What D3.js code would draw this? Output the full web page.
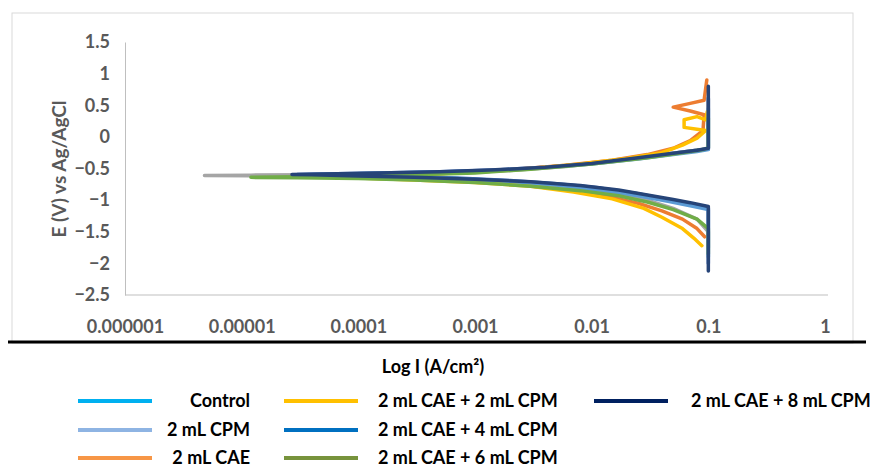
<!DOCTYPE html>
<html>
<head>
<meta charset="utf-8">
<script src="https://cdn.jsdelivr.net/npm/d3@7"></script>
<style>
  body { margin: 0; background: #fff; }
  svg { display: block; font-family: Lato, "Open Sans", sans-serif; }
</style>
</head>
<body>
<svg id="chart" width="871" height="468"></svg>
<script>
// tick values and labels
const xTicks = [1e-6, 1e-5, 1e-4, 1e-3, 1e-2, 1e-1, 1];
const xTickLabels = ["0.000001", "0.00001", "0.0001", "0.001", "0.01", "0.1", "1"];
const yTicks = [1.5, 1, 0.5, 0, -0.5, -1, -1.5, -2, -2.5];

const seriesNames = ["Control", "2 mL CPM", "2 mL CAE", "2 mL CAE + 2 mL CPM",
                     "2 mL CAE + 4 mL CPM", "2 mL CAE + 6 mL CPM", "2 mL CAE + 8 mL CPM"];

// current (A/cm2) and potential (V), cathodic end -> anodic end
const controlI = [0.1, 0.1, 0.07, 0.045, 0.025, 0.012, 0.005, 0.002, 7e-4, 2.5e-4, 9e-5, 4e-5, 3e-5, 5e-5, 1.5e-4, 5e-4, 0.0015, 0.004, 0.01, 0.025, 0.05, 0.08, 0.1, 0.1];
const controlE = [-2.0, -1.12, -1.06, -0.99, -0.9, -0.81, -0.74, -0.69, -0.65, -0.63, -0.61, -0.6, -0.595, -0.585, -0.57, -0.55, -0.525, -0.48, -0.42, -0.33, -0.26, -0.21, -0.19, 0.62];

const cpmI = [0.093, 0.08, 0.06, 0.04, 0.025, 0.012, 0.005, 0.002, 7e-4, 2e-4, 7e-5, 4e-5, 7e-5, 2e-4, 7e-4, 0.002, 0.006, 0.015, 0.03, 0.05, 0.07, 0.09, 0.092, 0.07, 0.05, 0.07, 0.092, 0.097];
const cpmE = [-1.58, -1.45, -1.3, -1.17, -1.05, -0.92, -0.82, -0.74, -0.69, -0.65, -0.63, -0.62, -0.61, -0.6, -0.57, -0.52, -0.45, -0.37, -0.28, -0.18, -0.06, 0.1, 0.35, 0.41, 0.47, 0.53, 0.58, 0.9];

const caeI = [0.1, 0.1, 0.08, 0.05, 0.03, 0.015, 0.006, 0.002, 6e-4, 1.5e-4, 4e-5, 1.2e-5, 4.8e-6, 1.2e-5, 4e-5, 1.5e-4, 6e-4, 0.002, 0.006, 0.015, 0.035, 0.065, 0.09, 0.1, 0.1];
const caeE = [-1.75, -1.5, -1.3, -1.13, -1.0, -0.88, -0.79, -0.72, -0.67, -0.64, -0.62, -0.615, -0.61, -0.605, -0.6, -0.59, -0.57, -0.53, -0.47, -0.39, -0.3, -0.23, -0.2, -0.19, 0.6];

const cae2I = [0.088, 0.075, 0.06, 0.04, 0.028, 0.015, 0.007, 0.003, 0.001, 3e-4, 1e-4, 5e-5, 1e-4, 3e-4, 0.001, 0.003, 0.008, 0.02, 0.04, 0.06, 0.08, 0.095, 0.08, 0.062, 0.062, 0.08, 0.095, 0.098];
const cae2E = [-1.72, -1.6, -1.45, -1.27, -1.13, -0.98, -0.87, -0.78, -0.72, -0.68, -0.65, -0.63, -0.615, -0.6, -0.56, -0.5, -0.43, -0.34, -0.25, -0.13, -0.02, 0.1, 0.12, 0.15, 0.27, 0.32, 0.27, 0.4];

const cae4I = [0.1, 0.1, 0.07, 0.045, 0.025, 0.012, 0.005, 0.002, 7e-4, 2.5e-4, 9e-5, 4.5e-5, 3.5e-5, 6e-5, 1.5e-4, 5e-4, 0.0015, 0.004, 0.01, 0.025, 0.05, 0.08, 0.1, 0.1];
const cae4E = [-1.9, -1.15, -1.09, -1.02, -0.93, -0.84, -0.76, -0.7, -0.66, -0.63, -0.615, -0.605, -0.6, -0.59, -0.575, -0.555, -0.53, -0.485, -0.43, -0.35, -0.28, -0.23, -0.2, 0.45];

const cae6I = [0.1, 0.1, 0.08, 0.05, 0.03, 0.017, 0.008, 0.003, 0.001, 3e-4, 1e-4, 3e-5, 1.2e-5, 3e-5, 1e-4, 3e-4, 0.001, 0.003, 0.01, 0.03, 0.06, 0.09, 0.1, 0.1];
const cae6E = [-1.85, -1.45, -1.3, -1.15, -1.03, -0.93, -0.85, -0.78, -0.72, -0.68, -0.66, -0.645, -0.64, -0.63, -0.62, -0.6, -0.57, -0.51, -0.43, -0.33, -0.25, -0.2, -0.17, 0.3];

const cae8I = [0.1, 0.1, 0.07, 0.05, 0.03, 0.017, 0.008, 0.003, 0.001, 3e-4, 1e-4, 4e-5, 2.7e-5, 5e-5, 1.5e-4, 5e-4, 0.0015, 0.004, 0.01, 0.025, 0.05, 0.08, 0.1, 0.1];
const cae8E = [-2.12, -1.1, -1.04, -0.99, -0.92, -0.84, -0.77, -0.71, -0.67, -0.64, -0.62, -0.6, -0.595, -0.585, -0.57, -0.55, -0.52, -0.48, -0.42, -0.33, -0.26, -0.21, -0.18, 0.8];

const seriesI = [controlI, cpmI, caeI, cae2I, cae4I, cae6I, cae8I];
const seriesE = [controlE, cpmE, caeE, cae2E, cae4E, cae6E, cae8E];

const lineColors = ["#4472C4", "#ED7D31", "#A5A5A5", "#FFC000", "#5B9BD5", "#70AD47", "#264478"];
const legendColors = ["#00B0F0", "#8EB4E3", "#F79646", "#FFC000", "#0070C0", "#77933C", "#002060"];

const svg = d3.select("#chart");

const x = d3.scaleLog().domain([1e-6, 1]).range([125, 825]);
const y = d3.scaleLinear().domain([-2.5, 1.5]).range([295, 42]);

// outer frame + heavy rule under the plot
svg.append("rect")
    .attr("x", 12).attr("y", 13)
    .attr("width", 841).attr("height", 330)
    .attr("fill", "none")
    .attr("stroke", "#D9D9D9");

svg.append("line")
    .attr("x1", 8).attr("x2", 866)
    .attr("y1", 342).attr("y2", 342)
    .attr("stroke", "#000")
    .attr("stroke-width", 3);

// axes
const yAxis = svg.append("g")
    .attr("transform", "translate(125,0)")
    .call(d3.axisLeft(y).tickValues(yTicks).tickSize(0).tickPadding(15).tickFormat(d3.format("")));

const xAxis = svg.append("g")
    .attr("transform", "translate(0,295)")
    .call(d3.axisBottom(x).tickValues(xTicks).tickSize(0).tickPadding(25)
        .tickFormat((d, i) => xTickLabels[i]));

[yAxis, xAxis].forEach(g => {
  g.select(".domain").attr("stroke", "#BFBFBF").attr("stroke-width", 1);
  g.selectAll("text")
      .attr("fill", "#595959")
      .style("font-family", "Lato, sans-serif")
      .style("font-size", "18px")
      .style("font-weight", "700");
});
xAxis.select(".domain").attr("d", "M125,0H828");

// curves
const line = d3.line()
    .x(d => x(d[0]))
    .y(d => y(d[1]));

svg.append("g")
    .attr("fill", "none")
    .attr("stroke-width", 3.5)
    .attr("stroke-linejoin", "round")
    .attr("stroke-linecap", "round")
  .selectAll("path")
  .data(seriesI.map((I, k) => I.map((v, j) => [v, seriesE[k][j]])))
  .enter().append("path")
    .attr("stroke", (d, k) => lineColors[k])
    .attr("d", line);

// axis titles
svg.append("text")
    .attr("transform", "translate(58,169) rotate(-90)")
    .attr("text-anchor", "middle")
    .attr("dominant-baseline", "central")
    .attr("fill", "#595959")
    .style("font-size", "19px")
    .style("font-weight", "700")
    .text("E (V) vs Ag/AgCl");

svg.append("text")
    .attr("x", 433).attr("y", 373)
    .attr("text-anchor", "middle")
    .attr("fill", "#000")
    .style("font-size", "18px")
    .style("font-weight", "700")
    .text("Log I (A/cm²)");

// legend, three columns
const legendCols = [
  { x1: 78, x2: 152, tx: 250, anchor: "end" },
  { x1: 284, x2: 358, tx: 378, anchor: "start" },
  { x1: 594, x2: 668, tx: 691, anchor: "start" }
];
const legendRows = [401, 430, 458];

const legend = svg.append("g");
seriesNames.forEach((name, k) => {
  const col = legendCols[Math.floor(k / 3)];
  const ry = legendRows[k % 3];
  legend.append("line")
      .attr("x1", col.x1).attr("x2", col.x2)
      .attr("y1", ry).attr("y2", ry)
      .attr("stroke", legendColors[k])
      .attr("stroke-width", 4);
  legend.append("text")
      .attr("x", col.tx).attr("y", ry + 6)
      .attr("text-anchor", col.anchor)
      .attr("fill", "#000")
      .style("font-size", "18px")
      .style("font-weight", "700")
      .text(name);
});
</script>
</body>
</html>
